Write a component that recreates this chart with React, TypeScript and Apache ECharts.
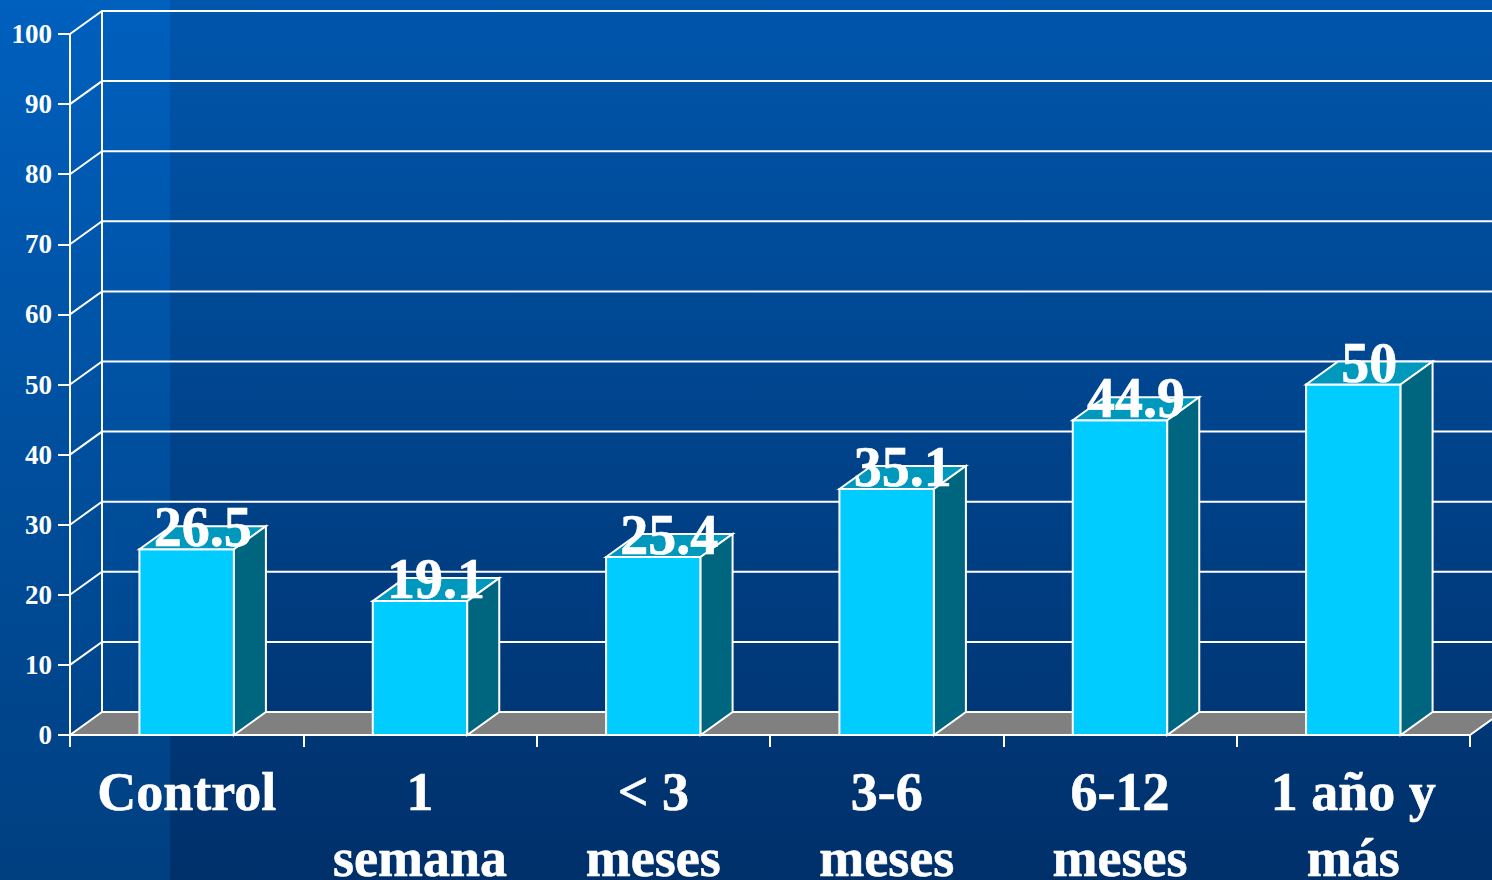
import React, { useEffect, useRef } from "react";
import * as echarts from "echarts";

const categories = ["Control", "1\nsemana", "< 3\nmeses", "3-6\nmeses", "6-12\nmeses", "1 año y\nmás"];
const values = [26.5, 19.1, 25.4, 35.1, 44.9, 50];
const wallTicks = [0, 10, 20, 30, 40, 50, 60, 70, 80, 90, 100];

const DEPTH_X = 32;
const DEPTH_Y = 23;
const WHITE = "#FFFFFF";
const SERIF = '"Liberation Serif", "Times New Roman", serif';

export default function App() {
  const ref = useRef<HTMLDivElement>(null);

  useEffect(() => {
    document.body.style.margin = "0";
    const chart = echarts.init(ref.current!, null, { renderer: "svg" });
    const line = { stroke: WHITE, lineWidth: 2, fill: "none" };
    const edge = { stroke: WHITE, lineWidth: 2 };

    chart.setOption({
      animation: false,
      backgroundColor: new echarts.graphic.LinearGradient(0, 0, 0, 1, [
        { offset: 0, color: "#0056AC" },
        { offset: 1, color: "#00306A" },
      ]),
      graphic: [
        {
          type: "rect",
          z: 0,
          silent: true,
          shape: { x: 0, y: 0, width: 170, height: 880 },
          style: {
            fill: new echarts.graphic.LinearGradient(0, 0, 0, 1, [
              { offset: 0, color: "#0060BE" },
              { offset: 1, color: "#003F80" },
            ]),
          },
        },
      ],
      grid: { left: 70, top: 34, width: 1400, height: 701, containLabel: false, outerBoundsMode: "none" },
      xAxis: {
        type: "category",
        data: categories,
        boundaryGap: true,
        z: 3,
        axisLine: { show: true, lineStyle: { color: WHITE, width: 2 } },
        axisTick: { show: true, length: 12, lineStyle: { color: WHITE, width: 2 } },
        axisLabel: {
          interval: 0,
          margin: 24,
          color: WHITE,
          fontFamily: SERIF,
          fontWeight: "bold",
          fontSize: 54,
          lineHeight: 66,
          textBorderColor: WHITE,
          textBorderWidth: 0.6,
        },
        splitLine: { show: false },
      },
      yAxis: {
        type: "value",
        min: 0,
        max: 100,
        interval: 10,
        z: 3,
        axisLine: { show: true, lineStyle: { color: WHITE, width: 2 } },
        axisTick: { show: true, length: 12, lineStyle: { color: WHITE, width: 2 } },
        axisLabel: {
          margin: 18,
          color: WHITE,
          fontFamily: SERIF,
          fontWeight: "bold",
          fontSize: 27,
        },
        splitLine: { show: false },
      },
      series: [
        {
          type: "custom",
          z: 1,
          clip: false,
          silent: true,
          data: wallTicks.map((v) => [0, v]),
          renderItem: (params: any, api: any) => {
            const v = api.value(1);
            const x0 = params.coordSys.x;
            const x1 = x0 + params.coordSys.width;
            const y = api.coord([0, v])[1];
            const yZero = api.coord([0, 0])[1];
            const children: any[] = [];
            if (v === 0) {
              children.push({
                type: "polygon",
                shape: {
                  points: [
                    [x0, y],
                    [x0 + DEPTH_X, y - DEPTH_Y],
                    [x1 + DEPTH_X, y - DEPTH_Y],
                    [x1, y],
                  ],
                },
                style: { fill: "#808080", ...edge },
              });
            } else {
              children.push({
                type: "polyline",
                shape: {
                  points: [
                    [x0, y],
                    [x0 + DEPTH_X, y - DEPTH_Y],
                    [x1 + DEPTH_X, y - DEPTH_Y],
                  ],
                },
                style: line,
              });
            }
            if (v === 100) {
              children.push({
                type: "line",
                shape: { x1: x0 + DEPTH_X, y1: y - DEPTH_Y, x2: x0 + DEPTH_X, y2: yZero - DEPTH_Y },
                style: line,
              });
            }
            return { type: "group", children };
          },
        },
        {
          type: "custom",
          z: 2,
          clip: false,
          silent: true,
          data: values.map((v, i) => [i, v]),
          renderItem: (_params: any, api: any) => {
            const i = api.value(0);
            const v = api.value(1);
            const top = api.coord([i, v]);
            const base = api.coord([i, 0]);
            const w = api.size([1, 0])[0] * 0.405;
            const l = top[0] - w / 2;
            const r = top[0] + w / 2;
            return {
              type: "group",
              children: [
                {
                  type: "rect",
                  shape: { x: l, y: top[1], width: w, height: base[1] - top[1] },
                  style: { fill: "#00CCFF", ...edge },
                },
                {
                  type: "polygon",
                  shape: {
                    points: [
                      [l, top[1]],
                      [l + DEPTH_X, top[1] - DEPTH_Y],
                      [r + DEPTH_X, top[1] - DEPTH_Y],
                      [r, top[1]],
                    ],
                  },
                  style: { fill: "#0099BD", ...edge },
                },
                {
                  type: "polygon",
                  shape: {
                    points: [
                      [r, top[1]],
                      [r + DEPTH_X, top[1] - DEPTH_Y],
                      [r + DEPTH_X, base[1] - DEPTH_Y],
                      [r, base[1]],
                    ],
                  },
                  style: { fill: "#006680", ...edge },
                },
                {
                  type: "text",
                  style: {
                    x: top[0] + 16,
                    y: top[1] - 22,
                    text: String(v),
                    fill: WHITE,
                    stroke: WHITE,
                    lineWidth: 0.6,
                    font: `bold 56px ${SERIF}`,
                    align: "center",
                    verticalAlign: "middle",
                  },
                },
              ],
            };
          },
        },
      ],
    });
    return () => chart.dispose();
  }, []);

  return <div ref={ref} style={{ width: 1492, height: 880 }} />;
}
